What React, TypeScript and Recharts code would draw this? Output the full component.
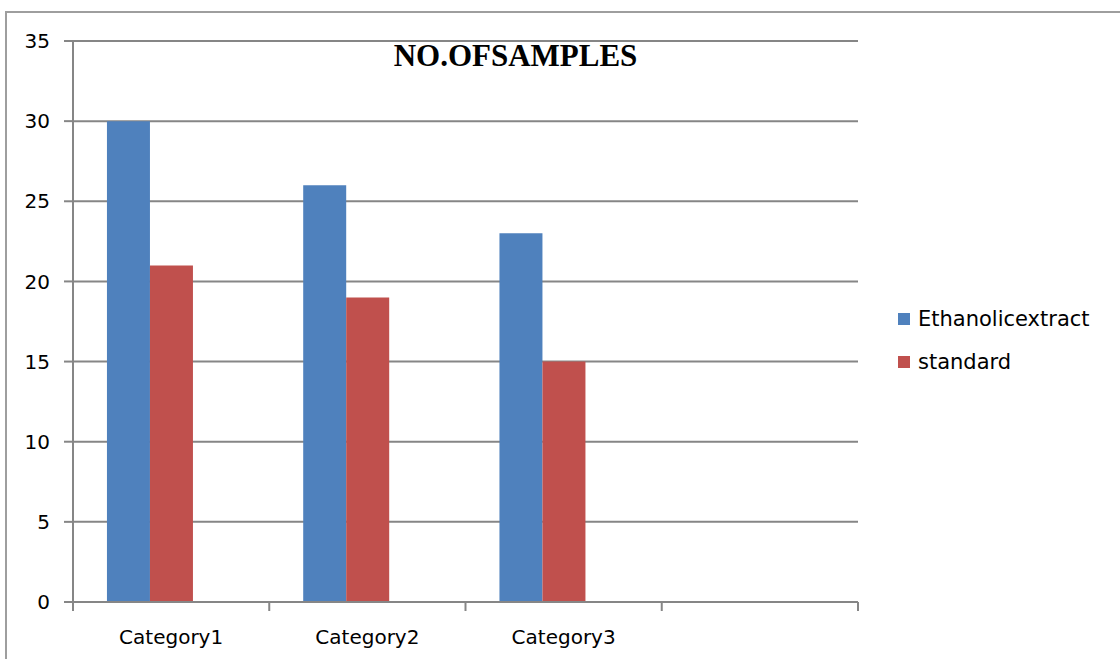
import { BarChart, Bar, XAxis, YAxis, CartesianGrid, Legend } from "recharts";

// values
const categories = ["Category1", "Category2", "Category3", ""];
const ethanolicExtract = [30, 26, 23, null];
const standard = [21, 19, 15, null];
const spare = [null, null, null, null]; // empty 3rd series, keeps Excel's bar spacing
const yTicks = [0, 5, 10, 15, 20, 25, 30, 35];

const data = categories.map((name, i) => ({
  name,
  ethanolic: ethanolicExtract[i],
  standard: standard[i],
  spare: spare[i],
}));

const W = 1120;
const H = 659;
const LEGEND_W = 220;
const M = { top: 41, right: 262 - LEGEND_W, bottom: 17, left: 13 };
const Y_W = 60;
const GRAY = "#868686";
const FONT = "DejaVu Sans";

const plotW = W - M.left - M.right - LEGEND_W - Y_W;
const band = plotW / categories.length;

function CatTick({ x, y, payload, index }: any) {
  const left = x - band / 2;
  return (
    <g>
      <line x1={left} x2={left} y1={y - 8} y2={y + 1} stroke={GRAY} strokeWidth={2} />
      {index === categories.length - 1 && (
        <line x1={left + band} x2={left + band} y1={y - 8} y2={y + 1} stroke={GRAY} strokeWidth={2} />
      )}
      <text x={x} y={y + 34} textAnchor="middle" fontFamily={FONT} fontSize={20} fill="#000">
        {payload.value}
      </text>
    </g>
  );
}

function LegendBox({ payload }: any) {
  return (
    <div>
      {payload
        .filter((p: any) => p.type !== "none")
        .map((p: any) => (
          <div
            key={p.value}
            style={{ display: "flex", alignItems: "center", height: 43, fontFamily: FONT, fontSize: 21 }}
          >
            <span style={{ width: 12, height: 12, background: p.color, marginRight: 8 }} />
            {p.value}
          </div>
        ))}
    </div>
  );
}

export default function App() {
  return (
    <div style={{ position: "fixed", left: 0, top: 0, width: W, height: H, background: "#fff" }}>
      <div
        style={{
          position: "absolute",
          left: 5,
          top: 11,
          width: W,
          height: H,
          borderLeft: `2px solid ${GRAY}`,
          borderTop: `2px solid ${GRAY}`,
          opacity: 0.8,
        }}
      />
      <div
        style={{
          position: "absolute",
          left: 0,
          width: 1031,
          top: 38,
          textAlign: "center",
          fontFamily: "Liberation Serif",
          fontWeight: "bold",
          fontSize: 31,
          lineHeight: "36px",
          zIndex: 2,
        }}
      >
        NO.OFSAMPLES
      </div>
      <BarChart width={W} height={H} data={data} margin={M} barCategoryGap="17.3%" barGap={0}>
        <CartesianGrid vertical={false} stroke={GRAY} strokeWidth={2} />
        <XAxis
          dataKey="name"
          stroke={GRAY}
          strokeWidth={2}
          tickLine={false}
          height={40}
          interval={0}
          tick={<CatTick />}
        />
        <YAxis
          domain={[0, 35]}
          ticks={yTicks}
          width={Y_W}
          stroke={GRAY}
          strokeWidth={2}
          tickSize={9}
          tickMargin={14}
          tick={{ fill: "#000", fontFamily: FONT, fontSize: 20 }}
        />
        <Legend
          layout="vertical"
          align="right"
          verticalAlign="middle"
          width={LEGEND_W}
          content={<LegendBox />}
          wrapperStyle={{ left: 898, top: 297, width: LEGEND_W }}
        />
        <Bar dataKey="ethanolic" name="Ethanolicextract" fill="#4F81BD" isAnimationActive={false} />
        <Bar dataKey="standard" name="standard" fill="#C0504D" isAnimationActive={false} />
        <Bar dataKey="spare" name="spare" fill="#9BBB59" legendType="none" isAnimationActive={false} />
      </BarChart>
    </div>
  );
}
